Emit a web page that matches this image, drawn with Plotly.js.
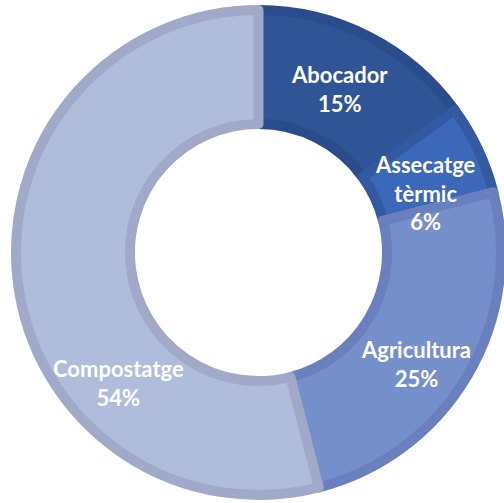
<!DOCTYPE html>
<html>
<head>
<meta charset="utf-8">
<script src="https://cdn.plot.ly/plotly-3.0.1.min.js"></script>
<style>html,body{margin:0;padding:0;background:#fff;}#chart{width:504px;height:503px;}</style>
</head>
<body>
<div id="chart"></div>
<script>
var categories = ["Abocador", "Assecatge<br>tèrmic", "Agricultura", "Compostatge"];
var shares = [15, 6, 25, 54];
var fillColors = ["#2F5597", "#3B68B8", "#758FCB", "#AFBCDC"];
var borderColors = ["#2B4C8A", "#3259A2", "#6A7FBD", "#A0A9C8"];
var labelPosX = [339, 425, 416, 118];
var labelPosY = [89, 193, 364, 383];

var W = 504, H = 503;
var annotations = categories.map(function (c, i) {
  return {
    text: c + "<br>" + shares[i] + "%",
    x: labelPosX[i] / W, y: 1 - labelPosY[i] / H,
    xref: "paper", yref: "paper", showarrow: false,
    xanchor: "center", yanchor: "middle",
    font: {family: "Lato, 'Open Sans', sans-serif", size: 22, color: "#ffffff", weight: "bold"},
    align: "center"
  };
});

var trace = {
  type: "pie",
  labels: categories,
  values: shares,
  hole: 0.53,
  sort: false,
  direction: "clockwise",
  rotation: 0,
  textinfo: "none",
  marker: {colors: fillColors, line: {color: borderColors, width: 10}},
  domain: {x: [16 / W, 501 / W], y: [1 - 495 / H, 1 - 10 / H]},
  hoverinfo: "label+percent"
};

Plotly.newPlot("chart", [trace], {
  width: W, height: H,
  margin: {l: 0, r: 0, t: 0, b: 0},
  paper_bgcolor: "#ffffff",
  showlegend: false,
  annotations: annotations
}, {displayModeBar: false, staticPlot: true});
</script>
</body>
</html>
